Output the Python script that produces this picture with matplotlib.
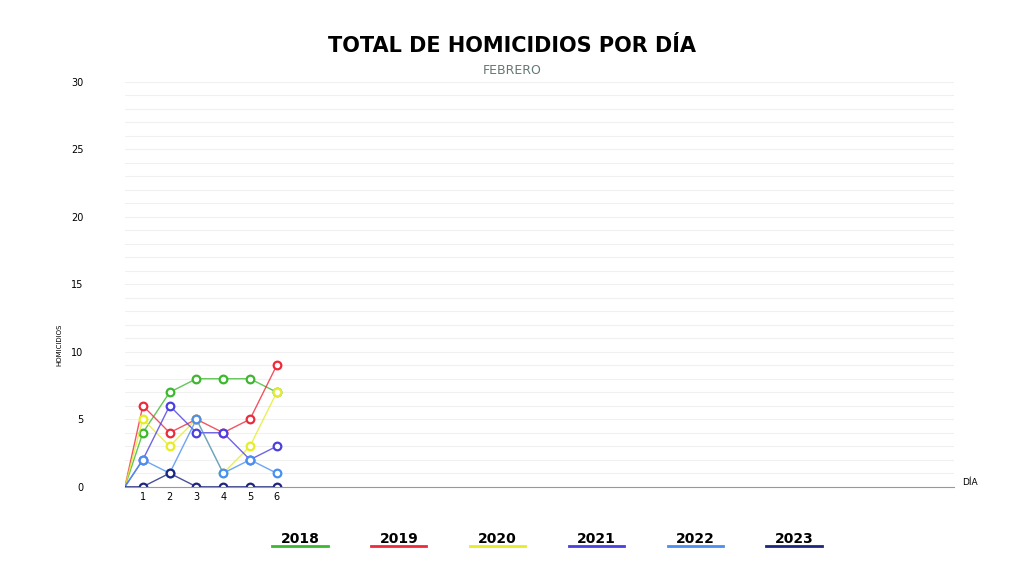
import matplotlib.pyplot as plt

dias = [0.33, 1, 2, 3, 4, 5, 6]
años = ['2018', '2019', '2020', '2021', '2022', '2023']
colores = ['#3cb82e', '#ee2a3a', '#e6ec2a', '#4a3fe0', '#4a8ff0', '#1c2580']
valores = {
    '2018': [0, 4, 7, 8, 8, 8, 7],
    '2019': [0, 6, 4, 5, 4, 5, 9],
    '2020': [0, 5, 3, 5, 1, 3, 7],
    '2021': [0, 2, 6, 4, 4, 2, 3],
    '2022': [0, 2, 1, 5, 1, 2, 1],
    '2023': [0, 0, 1, 0, 0, 0, 0],
}

fig = plt.figure(figsize=(10.24, 5.76), dpi=100)
ax = fig.add_axes([0.122, 0.155, 0.81, 0.703])

for año, c in zip(años, colores):
    v = valores[año]
    ax.plot(dias, v, color=c, lw=1, alpha=0.8)
    ax.plot(dias[1:], v[1:], 'o', color=c, mfc='white', mec=c, mew=1.6, ms=5.5, ls='none')

ax.set_xlim(0.33, 31.3)
ax.set_ylim(0, 30)
ax.set_yticks(range(0, 31, 5))
ax.set_yticks(range(0, 31), minor=True)
ax.set_xticks(range(1, 7))
ax.grid(True, which='both', axis='y', color='#f0f0f0', lw=0.8)
ax.tick_params(axis='both', which='both', length=0, labelsize=7)
ax.tick_params(axis='y', pad=30)
for s in ['top', 'right', 'left']:
    ax.spines[s].set_visible(False)
ax.spines['bottom'].set_color('#999999')
ax.set_ylabel('HOMICIDIOS', fontsize=5)
ax.yaxis.set_label_coords(-0.075, 0.35)
ax.text(31.6, 0.0, 'DÍA', fontsize=6.5, va='bottom', ha='left')

fig.text(0.5, 0.91, 'TOTAL DE HOMICIDIOS POR DÍA', ha='center', fontsize=15,
         fontweight='bold')
fig.text(0.5, 0.872, 'FEBRERO', ha='center', fontsize=9, color='#667777')

for i, (año, c) in enumerate(zip(años, colores)):
    xc = 0.293 + i * 0.0965
    fig.text(xc, 0.058, año, ha='center', fontsize=10, fontweight='bold')
    fig.add_artist(plt.Line2D([xc - 0.027, xc + 0.027], [0.052, 0.052], color=c, lw=2))

fig.savefig('out.png')
